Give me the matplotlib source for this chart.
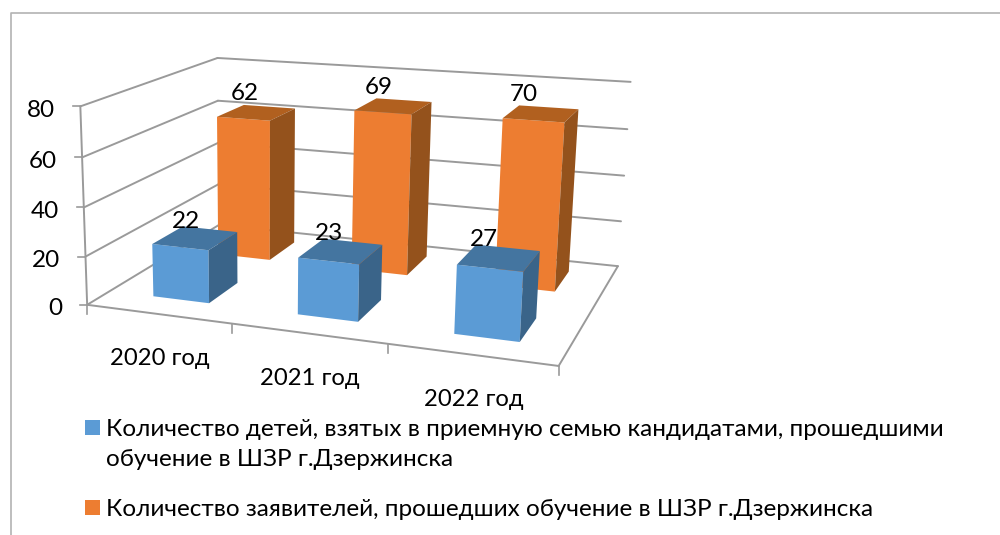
import numpy as np
import matplotlib
matplotlib.use("Agg")
import matplotlib.pyplot as plt

years = ['2020 год', '2021 год', '2022 год']
children = [22, 23, 27]
applicants = [62, 69, 70]
value_ticks = [0, 20, 40, 60, 80]
legend_children = ('Количество детей, взятых в приемную семью кандидатами, прошедшими\n'
                   'обучение в ШЗР г.Дзержинска')
legend_applicants = 'Количество заявителей, прошедших обучение в ШЗР г.Дзержинска'

# corners of the 3d box: (category, depth, value) -> pixel
world = [(0, 0, 0), (3, 0, 0), (3, 1, 0), (0, 1, 0), (0, 0, 80), (0, 1, 80), (3, 1, 80)]
pixels = [(90, 306), (558, 366), (619, 266), (216, 224), (78, 105), (220, 59), (630, 82)]


def fit_camera(world, pixels):
    rows = []
    for (x, y, z), (u, v) in zip(world, pixels):
        rows.append([x, y, z, 1, 0, 0, 0, 0, -u * x, -u * y, -u * z, -u])
        rows.append([0, 0, 0, 0, x, y, z, 1, -v * x, -v * y, -v * z, -v])
    return np.linalg.svd(np.array(rows, dtype=float))[2][-1].reshape(3, 4)


cam = fit_camera(world, pixels)


def proj(x, y, z):
    u, v, w = cam @ np.array([x, y, z, 1.0])
    return u / w, v / w


def line3d(ax, a, b, color='#9a9a9a', lw=1.4):
    p, q = proj(*a), proj(*b)
    ax.plot([p[0], q[0]], [p[1], q[1]], color=color, lw=lw, solid_capstyle='round', zorder=1)


def bar3d(ax, i, y0, y1, val, front, top, side):
    x0, x1 = i + 0.315, i + 0.71
    ax.fill(*zip(proj(x0, y0, 0), proj(x1, y0, 0), proj(x1, y0, val), proj(x0, y0, val)),
            color=front, lw=0, zorder=2)
    ax.fill(*zip(proj(x0, y0, val), proj(x1, y0, val), proj(x1, y1, val), proj(x0, y1, val)),
            color=top, lw=0, zorder=2)
    ax.fill(*zip(proj(x1, y0, 0), proj(x1, y1, 0), proj(x1, y1, val), proj(x1, y0, val)),
            color=side, lw=0, zorder=2)


plt.rcParams['font.family'] = ['Lato', 'Open Sans', 'DejaVu Sans']
fig = plt.figure(figsize=(10, 5.35), dpi=100)
ax = fig.add_axes([0, 0, 1, 1])
ax.set_xlim(0, 1000)
ax.set_ylim(535, 0)
ax.axis('off')

# outer chart frame, cut off at the right and bottom
ax.plot([10.5, 10.5, 1000], [535, 12.5, 12.5], color='#b3b3b3', lw=1.2, zorder=1)

# walls
for v in value_ticks:
    line3d(ax, (0, 0, v), (0, 1, v))
    line3d(ax, (0, 1, v), (3, 1, v))
    u0, v0 = proj(0, 0, v)
    ax.plot([u0 - 7, u0], [v0, v0], color='#9a9a9a', lw=1.2, zorder=1)
    ax.text(u0 - 25, v0 + 4, str(v), ha='right', va='center', fontsize=17.5, color='black')
line3d(ax, (0, 0, 0), (0, 0, 80))

# floor
line3d(ax, (0, 0, 0), (3, 0, 0))
line3d(ax, (3, 0, 0), (3, 1, 0))
for i in range(4):
    u0, v0 = proj(i, 0, 0)
    ax.plot([u0, u0], [v0, v0 + 9], color='#9a9a9a', lw=1.2, zorder=1)

for i, name in enumerate(years):
    u0, v0 = proj(i + 0.5, 0, 0)
    ax.text(u0 + 2, v0 + 45, name, ha='center', va='center', fontsize=17.2, color='black')

# back row first, then the front row
for i, val in enumerate(applicants):
    bar3d(ax, i, 0.65, 0.88, val, '#ed7d31', '#b1601f', '#94521c')
    u0, v0 = proj(i + 0.5, 0.88, val)
    ax.text(u0 - 23, v0 - 13, str(val), ha='center', va='center', fontsize=17.5, color='black', zorder=3)
for i, val in enumerate(children):
    bar3d(ax, i, 0.15, 0.372, val, '#5b9bd5', '#4475a0', '#3a6489')
    u0, v0 = proj(i + 0.5, 0.372, val)
    ax.text(u0 - 22, v0 - 8, str(val), ha='center', va='center', fontsize=17.5, color='black', zorder=3)

# legend
ax.fill([85, 100, 100, 85], [420, 420, 435, 435], color='#5b9bd5', lw=0)
ax.fill([85, 100, 100, 85], [500, 500, 515, 515], color='#ed7d31', lw=0)
ax.text(106, 444.5, legend_children, ha='left', va='center', fontsize=17.5, linespacing=1.5, color='black')
ax.text(106, 509, legend_applicants, ha='left', va='center', fontsize=17.5, color='black')

fig.savefig('out.png', dpi=100)
